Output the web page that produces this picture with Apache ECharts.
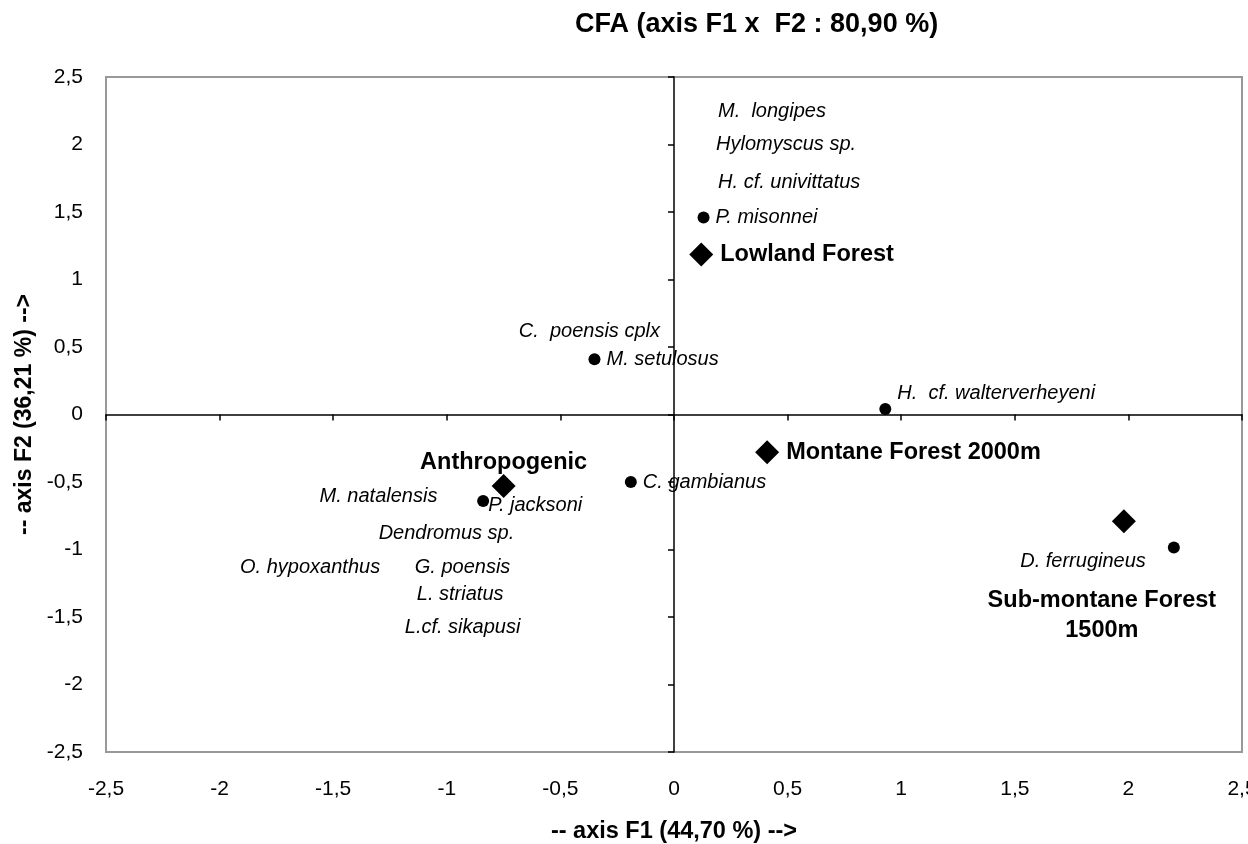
<!DOCTYPE html>
<html>
<head>
<meta charset="utf-8">
<script src="https://cdn.jsdelivr.net/npm/echarts@6/dist/echarts.min.js"></script>
<style>
html,body{margin:0;padding:0;background:#fff;}
#chart{width:1248px;height:844px;}
</style>
</head>
<body>
<div id="chart"></div>
<script>
// ---- Data ----
const axisTicks = [-2.5, -2, -1.5, -1, -0.5, 0, 0.5, 1, 1.5, 2, 2.5];

// species with a plotted point (circle)
const speciesNames = ['P. misonnei', 'M. setulosus', 'H.  cf. walterverheyeni', 'C. gambianus', 'P. jacksoni', 'D. ferrugineus'];
const speciesF1 = [0.13, -0.35, 0.93, -0.19, -0.84, 2.20];
const speciesF2 = [1.46, 0.41, 0.04, -0.50, -0.64, -0.985];

// habitats (diamonds)
const habitatNames = ['Lowland Forest', 'Anthropogenic', 'Montane Forest 2000m', 'Sub-montane Forest\n1500m'];
const habitatF1 = [0.12, -0.75, 0.41, 1.98];
const habitatF2 = [1.185, -0.53, -0.28, -0.79];

// species labels whose points are hidden under others (label anchor = left edge of text)
const textNames = ['M.  longipes', 'Hylomyscus sp.', 'H. cf. univittatus', 'C.  poensis cplx', 'M. natalensis', 'Dendromus sp.', 'O. hypoxanthus', 'G. poensis', 'L. striatus', 'L.cf. sikapusi'];
const textF1 = [0.194, 0.185, 0.194, -0.683, -1.56, -1.30, -1.91, -1.141, -1.132, -1.185];
const textF2 = [2.244, 2.0, 1.72, 0.615, -0.607, -0.881, -1.133, -1.133, -1.333, -1.578];

// ---- Layout of labels (styling, not data) ----
const speciesLabelLayout = {
  'H.  cf. walterverheyeni': { position: 'right', offset: [0, -16] },
  'P. jacksoni': { position: 'right', offset: [-7, 5] },
  'D. ferrugineus': { position: 'left', offset: [-16, 14] }
};
const habitatLabelLayout = {
  'Lowland Forest': { position: 'right', distance: 7 },
  'Anthropogenic': { position: 'top', offset: [0, 7] },
  'Montane Forest 2000m': { position: 'right', distance: 7 },
  'Sub-montane Forest\n1500m': { position: 'bottom', offset: [-22, 45], align: 'center', lineHeight: 30 }
};

const FONT = '"Liberation Sans", Arial, sans-serif';
const fmt = v => String(v).replace('.', ',');

const speciesData = speciesNames.map((n, i) => {
  const d = { name: n, value: [speciesF1[i], speciesF2[i]] };
  if (speciesLabelLayout[n]) d.label = speciesLabelLayout[n];
  return d;
});
const habitatData = habitatNames.map((n, i) => {
  const d = { name: n, value: [habitatF1[i], habitatF2[i]] };
  if (habitatLabelLayout[n]) d.label = habitatLabelLayout[n];
  return d;
});
const textData = textNames.map((n, i) => ({ name: n, value: [textF1[i], textF2[i]] }));

const chart = echarts.init(document.getElementById('chart'), null, { renderer: 'canvas' });

const baseAxis = {
  type: 'value', min: axisTicks[0], max: axisTicks[axisTicks.length - 1], interval: 0.5,
  splitLine: { show: false }
};

chart.setOption({
  backgroundColor: '#fff',
  animation: false,
  title: {
    text: 'CFA (axis F1 x  F2 : 80,90 %)',
    left: 570, top: 6,
    textStyle: { fontFamily: FONT, fontSize: 27, fontWeight: 'bold', color: '#000' }
  },
  grid: {
    left: 106, right: 6, top: 77, bottom: 92,
    outerBoundsMode: 'none', containLabel: false,
    show: true, borderColor: '#999', borderWidth: 2, backgroundColor: 'transparent'
  },
  xAxis: [
    Object.assign({}, baseAxis, {
      position: 'bottom',
      axisLine: { show: false, onZero: false },
      axisTick: { show: false },
      axisLabel: { formatter: fmt, color: '#000', fontSize: 21, fontFamily: FONT, margin: 27 },
      name: '-- axis F1 (44,70 %) -->',
      nameLocation: 'middle', nameGap: 68, nameMoveOverlap: false,
      nameTextStyle: { fontFamily: FONT, fontSize: 23.5, fontWeight: 'bold', color: '#000' }
    }),
    Object.assign({}, baseAxis, {
      position: 'bottom',
      axisLine: { show: true, onZero: true, onZeroAxisIndex: 0, lineStyle: { color: '#000', width: 1.5 } },
      axisTick: { show: true, length: 6, lineStyle: { color: '#000', width: 1.5 } },
      axisLabel: { show: false }
    })
  ],
  yAxis: [
    Object.assign({}, baseAxis, {
      position: 'left',
      axisLine: { show: false, onZero: false },
      axisTick: { show: false },
      axisLabel: { formatter: fmt, color: '#000', fontSize: 21, fontFamily: FONT, margin: 23 },
      name: '-- axis F2 (36,21 %) -->',
      nameLocation: 'middle', nameGap: 70, nameRotate: 90, nameMoveOverlap: false,
      nameTextStyle: { fontFamily: FONT, fontSize: 23, fontWeight: 'bold', color: '#000' }
    }),
    Object.assign({}, baseAxis, {
      position: 'left',
      axisLine: { show: true, onZero: true, onZeroAxisIndex: 0, lineStyle: { color: '#000', width: 1.5 } },
      axisTick: { show: true, length: 6, lineStyle: { color: '#000', width: 1.5 } },
      axisLabel: { show: false }
    })
  ],
  series: [
    {
      type: 'scatter', xAxisIndex: 0, yAxisIndex: 0,
      symbol: 'circle', symbolSize: 0,
      itemStyle: { color: 'transparent', opacity: 1 },
      label: {
        show: true, position: 'right', distance: 0,
        formatter: p => p.name,
        fontFamily: FONT, fontSize: 20, fontStyle: 'italic', color: '#000'
      },
      data: textData
    },
    {
      type: 'scatter', xAxisIndex: 0, yAxisIndex: 0,
      symbol: 'circle', symbolSize: 12,
      itemStyle: { color: '#000', opacity: 1 },
      label: {
        show: true, position: 'right', distance: 6,
        formatter: p => p.name,
        fontFamily: FONT, fontSize: 20, fontStyle: 'italic', color: '#000'
      },
      data: speciesData
    },
    {
      type: 'scatter', xAxisIndex: 0, yAxisIndex: 0,
      symbol: 'diamond', symbolSize: 24,
      itemStyle: { color: '#000', opacity: 1 },
      label: {
        show: true, position: 'right', distance: 7,
        formatter: p => p.name,
        fontFamily: FONT, fontSize: 23.5, fontWeight: 'bold', color: '#000'
      },
      data: habitatData
    }
  ]
});
</script>
</body>
</html>
